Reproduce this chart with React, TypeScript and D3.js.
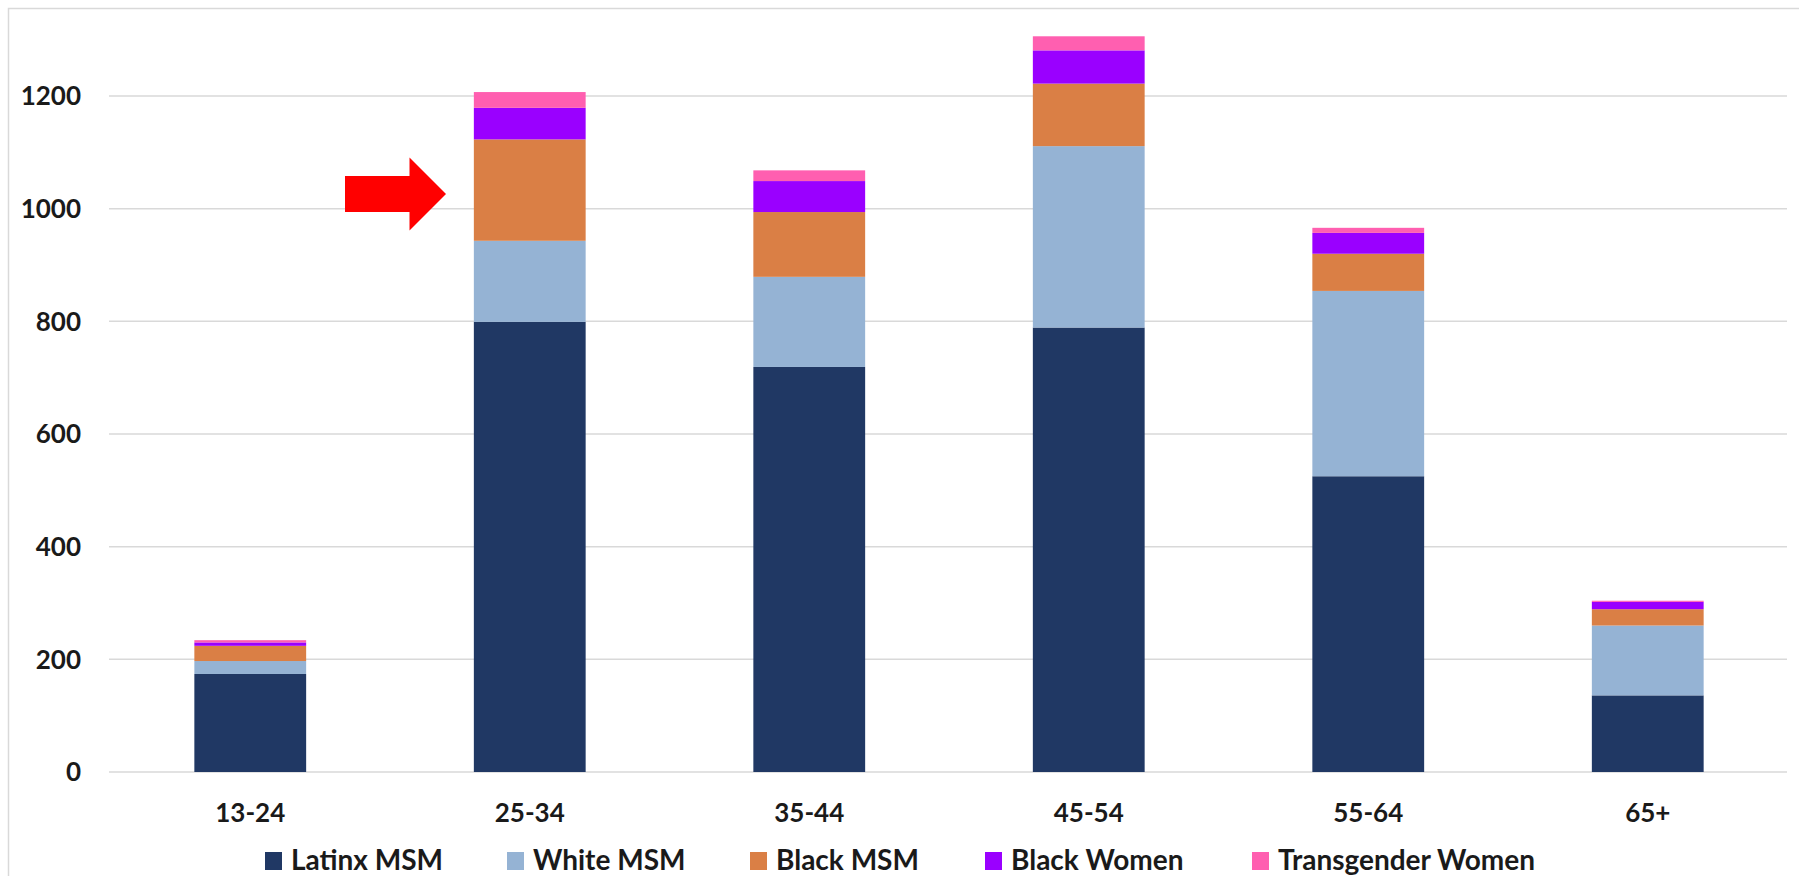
import React from "react";
import * as d3 from "d3";

const categories = ["13-24", "25-34", "35-44", "45-54", "55-64", "65+"];
const seriesNames = ["Latinx MSM", "White MSM", "Black MSM", "Black Women", "Transgender Women"];
const latinxMSM = [174, 799, 719, 789, 525, 136];
const whiteMSM = [23, 144, 160, 322, 329, 124];
const blackMSM = [27, 180, 115, 111, 66, 29];
const blackWomen = [6, 56, 55, 59, 37, 13];
const transWomen = [4, 28, 19, 25, 9, 2];
const yTicks = [0, 200, 400, 600, 800, 1000, 1200];
const colors = ["#203864", "#95B3D4", "#DA7F45", "#9A00FF", "#FF5FB0"];

const W = 1799;
const H = 876;
const FONT = "Lato, 'Open Sans', sans-serif";

export default function App() {
  const rows = categories.map((c, i) => ({
    cat: c,
    "Latinx MSM": latinxMSM[i],
    "White MSM": whiteMSM[i],
    "Black MSM": blackMSM[i],
    "Black Women": blackWomen[i],
    "Transgender Women": transWomen[i],
  }));
  const stack = d3.stack<any>().keys(seriesNames);
  const layers = stack(rows);

  const x = d3.scaleBand().domain(categories).range([110.5, 1787.5]).paddingInner(0.6).paddingOuter(0.3);
  const y = d3.scaleLinear().domain([0, 1200]).range([772, 96]);

  const legendX = [265, 507, 750, 985, 1252];

  return (
    <div style={{ position: "fixed", left: 0, top: 0, width: W, height: H, background: "#fff" }}>
      <svg width={W} height={H} style={{ display: "block" }}>
        <rect x={8.5} y={8.5} width={W + 20} height={H + 20} fill="#fff" stroke="#D9D9D9" strokeWidth={1.5} />
        {yTicks.map((t) => (
          <g key={t}>
            <line x1={109} x2={1787} y1={y(t)} y2={y(t)} stroke="#D9D9D9" strokeWidth={1.5} />
            <text x={81} y={y(t)} dy="0.36em" textAnchor="end" fontFamily={FONT} fontWeight={700} fontSize={26} fill="#1a1a1a">
              {t}
            </text>
          </g>
        ))}
        {layers.map((layer, li) => (
          <g key={layer.key} fill={colors[li]}>
            {layer.map((d, i) => (
              <rect
                key={i}
                x={x(categories[i])}
                width={x.bandwidth()}
                y={y(d[1])}
                height={Math.max(0, y(d[0]) - y(d[1]))}
              />
            ))}
          </g>
        ))}
        {categories.map((c) => (
          <text key={c} x={(x(c) as number) + x.bandwidth() / 2} y={822} textAnchor="middle" fontFamily={FONT} fontWeight={700} fontSize={26} fill="#1a1a1a">
            {c}
          </text>
        ))}
        {seriesNames.map((s, i) => (
          <g key={s}>
            <rect x={legendX[i]} y={852} width={17} height={18} fill={colors[i]} />
            <text x={legendX[i] + 26} y={870} fontFamily={FONT} fontWeight={700} fontSize={28} fill="#1a1a1a">
              {s}
            </text>
          </g>
        ))}
        <path d="M345,176 L409.5,176 L409.5,157.5 L446,194 L409.5,230.5 L409.5,212 L345,212 Z" fill="#FF0000" />
      </svg>
    </div>
  );
}
